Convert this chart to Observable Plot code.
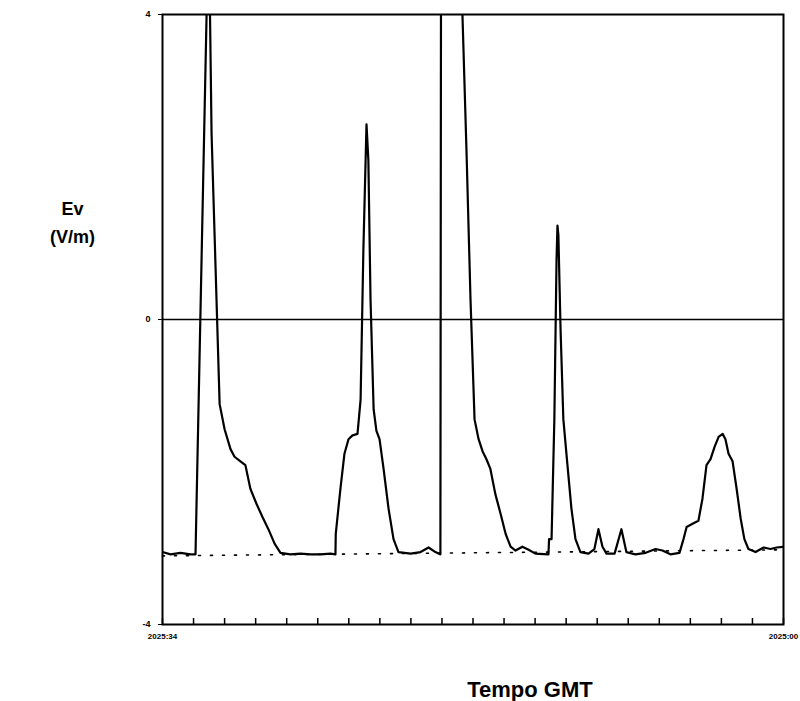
<!DOCTYPE html>
<html>
<head>
<meta charset="utf-8">
<script src="https://cdn.jsdelivr.net/npm/d3@7"></script>
<script src="https://cdn.jsdelivr.net/npm/@observablehq/plot@0.6"></script>
<style>
  html, body { margin: 0; padding: 0; background: #fff; }
  #chart svg { display: block; }
</style>
</head>
<body>
<div id="chart"></div>
<script>
// Time in minor-tick units (0..20), Ev in V/m
const time = [
  0, 0.26, 0.58, 0.90, 1.063, 1.42, 1.47, 1.53, 1.58, 1.84, 2.0, 2.19, 2.32, 2.51, 2.67, 2.83, 3.03, 3.22, 3.41, 3.61, 3.80,
  4.12, 4.44, 4.77, 5.09, 5.41, 5.57,
  5.58, 5.73, 5.86, 5.99, 6.12, 6.28, 6.38, 6.47, 6.57, 6.63, 6.70, 6.80, 6.89, 6.99, 7.12, 7.28, 7.44, 7.60, 7.99, 8.31, 8.57, 8.79, 8.94,
  8.95, 8.97, 9.28, 9.59, 9.66, 9.79, 9.92, 10.05, 10.18, 10.31, 10.43, 10.56, 10.72, 10.89, 11.05, 11.21, 11.37, 11.59, 11.79, 12.01, 12.42,
  12.43, 12.45, 12.53, 12.62, 12.69, 12.72, 12.75, 12.82, 12.91, 13.04, 13.17, 13.30, 13.46, 13.72, 13.91, 14.04, 14.17, 14.30, 14.56, 14.78, 14.94,
  15.23, 15.56, 15.88, 16.10, 16.36, 16.65, 16.78, 16.88, 17.07, 17.26, 17.39, 17.52, 17.65, 17.78, 17.91, 18.04, 18.13, 18.23, 18.36, 18.49,
  18.62, 18.74, 18.87, 19.10, 19.36, 19.58, 19.78, 20
];
const ev = [
  -3.05, -3.08, -3.06, -3.08, -3.08, 4.0, 4.4, 4.0, 2.44, -1.11, -1.44, -1.70, -1.80, -1.86, -1.91, -2.22, -2.42, -2.59, -2.75, -2.94, -3.06,
  -3.08, -3.07, -3.08, -3.08, -3.07, -3.08,
  -2.81, -2.22, -1.76, -1.57, -1.52, -1.50, -1.05, 0.92, 2.56, 2.09, 0.26, -1.18, -1.46, -1.57, -1.96, -2.48, -2.88, -3.05, -3.07, -3.05, -2.99, -3.05, -3.08,
  -3.08, 4.6, 4.8, 4.4, 4.0, 2.22, 0.26, -1.31, -1.57, -1.73, -1.83, -1.96, -2.29, -2.55, -2.81, -2.98, -3.03, -2.98, -3.02, -3.07, -3.08,
  -3.08, -2.88, -2.88, -1.31, 0.78, 1.23, 1.11, -0.13, -1.31, -1.90, -2.48, -2.88, -3.05, -3.07, -3.01, -2.75, -2.98, -3.07, -3.07, -2.75, -3.05,
  -3.08, -3.06, -3.01, -3.03, -3.08, -3.06, -2.88, -2.72, -2.68, -2.64, -2.35, -1.91, -1.83, -1.67, -1.54, -1.50, -1.57, -1.76, -1.86, -2.22,
  -2.61, -2.88, -3.01, -3.05, -2.99, -3.01, -2.99, -2.98
];
// Dotted reference (fair-weather) level
const refTime = [0, 20];
const refEv = [-3.10, -3.02];

const xTicks = d3.range(0, 21);
const xLabelPos = [0, 20];
const xLabels = ["2025:34", "2025:00"];
const yTicks = [-4, 0, 4];
const yLabels = ["-4", "0", "4"];

const series = time.map((t, i) => ({t, v: ev[i]}));
const ref = refTime.map((t, i) => ({t, v: refEv[i]}));

const chart = Plot.plot({
  width: 800,
  height: 701,
  marginLeft: 162,
  marginRight: 17,
  marginTop: 14,
  marginBottom: 77,
  style: {fontFamily: "'Liberation Sans', Arial, sans-serif", background: "#fff", color: "#000"},
  x: {domain: [0, 20]},
  y: {domain: [-4, 4]},
  marks: [
    Plot.axisY({ticks: yTicks, tickFormat: (d) => yLabels[yTicks.indexOf(d)], tickSize: 4, tickPadding: 8, fontSize: 9, fontWeight: "bold", label: null}),
    Plot.axisX({ticks: xLabelPos, tickFormat: (d) => xLabels[xLabelPos.indexOf(d)], tickSize: 0, tickPadding: 9, fontSize: 8, fontWeight: "bold", label: null}),
    Plot.tickX(xTicks, {x: (d) => d, insetTop: 604, stroke: "#000", strokeWidth: 1.5}),
    Plot.ruleY([0], {stroke: "#000", strokeWidth: 1.6}),
    Plot.line(ref, {x: "t", y: "v", stroke: "#000", strokeWidth: 1.6, strokeDasharray: "2,10"}),
    Plot.line(series, {x: "t", y: "v", stroke: "#000", strokeWidth: 2.2, clip: true}),
    Plot.frame({stroke: "#000", strokeWidth: 2}),
    Plot.text(["Ev"], {frameAnchor: "left", dx: -90, dy: -110, text: (d) => d, fontSize: 18, fontWeight: "bold", textAnchor: "middle"}),
    Plot.text(["(V/m)"], {frameAnchor: "left", dx: -90, dy: -82, text: (d) => d, fontSize: 18, fontWeight: "bold", textAnchor: "middle"}),
    Plot.text(["Tempo GMT"], {frameAnchor: "bottom", dx: 57, dy: 72, text: (d) => d, fontSize: 22, fontWeight: "bold", textAnchor: "middle"})
  ]
});
document.getElementById("chart").append(chart);
</script>
</body>
</html>
